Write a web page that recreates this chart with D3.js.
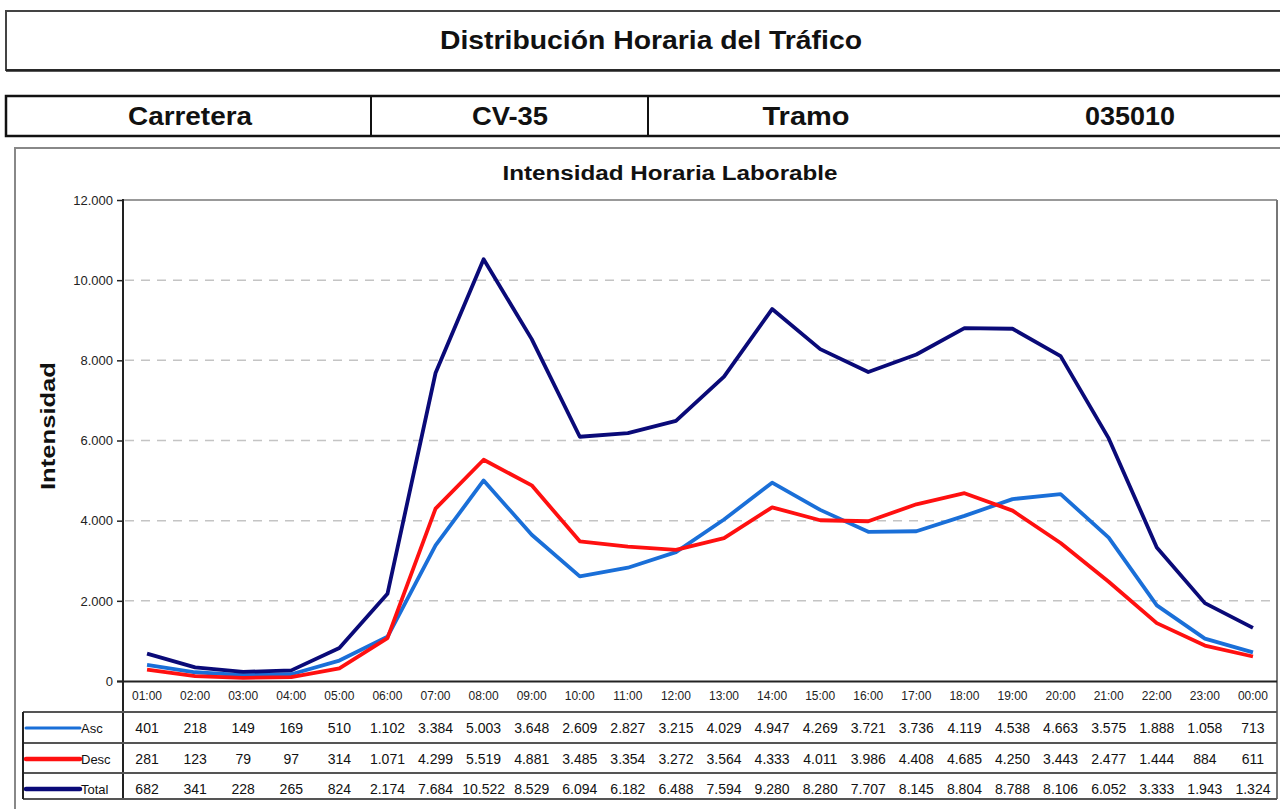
<!DOCTYPE html>
<html>
<head>
<meta charset="utf-8">
<script src="https://cdn.jsdelivr.net/npm/d3@7"></script>
<style>
  body { margin: 0; background: #fff; }
  svg { display: block; font-family: "Liberation Sans", Arial, sans-serif; }
</style>
</head>
<body>
<script>
// data
const hours = ["01:00","02:00","03:00","04:00","05:00","06:00","07:00","08:00","09:00","10:00","11:00","12:00",
               "13:00","14:00","15:00","16:00","17:00","18:00","19:00","20:00","21:00","22:00","23:00","00:00"];
const asc = [401,218,149,169,510,1102,3384,5003,3648,2609,2827,3215,4029,4947,4269,3721,3736,4119,4538,4663,3575,1888,1058,713];
const desc = [281,123,79,97,314,1071,4299,5519,4881,3485,3354,3272,3564,4333,4011,3986,4408,4685,4250,3443,2477,1444,884,611];
const total = [682,341,228,265,824,2174,7684,10522,8529,6094,6182,6488,7594,9280,8280,7707,8145,8804,8788,8106,6052,3333,1943,1324];
const seriesNames = ["Asc", "Desc", "Total"];
const yTicks = [0, 2000, 4000, 6000, 8000, 10000, 12000];
const headerCells = ["Carretera", "CV-35", "Tramo", "035010"];

const W = 1280, H = 809;
const colors = { Asc: "#1a6fd8", Desc: "#ff1010", Total: "#0a0a78" };
const seriesData = { Asc: asc, Desc: desc, Total: total };
const narrow = "'Liberation Sans Narrow', 'Liberation Sans', Arial, sans-serif";

const es = d3.formatLocale({ decimal: ",", thousands: ".", grouping: [3], currency: ["", "€"] });
const fmt = es.format(",d");

const svg = d3.select("body").append("svg").attr("width", W).attr("height", H);

// ---- header boxes ----
svg.append("rect").attr("x", 6).attr("y", 11).attr("width", 1290).attr("height", 59)
   .attr("fill", "none").attr("stroke", "#444").attr("stroke-width", 2);
svg.append("line").attr("x1", 6).attr("x2", 1280).attr("y1", 70.5).attr("y2", 70.5)
   .attr("stroke", "#222").attr("stroke-width", 2.5);
svg.append("text").attr("x", 651).attr("y", 49).attr("text-anchor", "middle")
   .attr("font-size", 25).attr("font-weight", "bold")
   .attr("textLength", 422).attr("lengthAdjust", "spacingAndGlyphs")
   .attr("fill", "#111").text("Distribución Horaria del Tráfico");

svg.append("rect").attr("x", 6).attr("y", 96).attr("width", 1290).attr("height", 40)
   .attr("fill", "none").attr("stroke", "#111").attr("stroke-width", 2.5);
const cellCenters = [190, 510, 806, 1130];
const cellWidths = [124, 76, 87, 90];
[371, 648].forEach(xx => {
  svg.append("line").attr("x1", xx).attr("x2", xx).attr("y1", 96).attr("y2", 136)
     .attr("stroke", "#111").attr("stroke-width", 2);
});
svg.selectAll(".hcell").data(headerCells).enter().append("text")
   .attr("class", "hcell")
   .attr("x", (d, i) => cellCenters[i]).attr("y", 125)
   .attr("text-anchor", "middle").attr("font-size", 25).attr("font-weight", "bold")
   .attr("textLength", (d, i) => cellWidths[i]).attr("lengthAdjust", "spacingAndGlyphs")
   .attr("fill", "#111").text(d => d);

// ---- chart frame ----
svg.append("rect").attr("x", 15).attr("y", 148).attr("width", 1300).attr("height", 700)
   .attr("fill", "none").attr("stroke", "#888").attr("stroke-width", 2);
svg.append("text").attr("x", 670).attr("y", 180).attr("text-anchor", "middle")
   .attr("font-size", 20).attr("font-weight", "bold")
   .attr("textLength", 335).attr("lengthAdjust", "spacingAndGlyphs")
   .attr("fill", "#111").text("Intensidad Horaria Laborable");

// ---- scales ----
const x = d3.scaleBand().domain(hours).range([123, 1277]);
const y = d3.scaleLinear().domain([0, 12000]).range([681, 200]);

// gridlines
svg.append("g").selectAll("line").data(yTicks.filter(v => v > 0 && v < 12000)).enter().append("line")
   .attr("x1", 125).attr("x2", 1277).attr("y1", d => y(d)).attr("y2", d => y(d))
   .attr("stroke", "#c4c4c4").attr("stroke-width", 1.5).attr("stroke-dasharray", "9,7");

// plot border top and right
svg.append("line").attr("x1", 123).attr("x2", 1277).attr("y1", y(12000)).attr("y2", y(12000))
   .attr("stroke", "#777").attr("stroke-width", 1.5);
svg.append("line").attr("x1", 1277).attr("x2", 1277).attr("y1", y(12000)).attr("y2", 799)
   .attr("stroke", "#777").attr("stroke-width", 2);

// y axis
const yAxis = svg.append("g").attr("transform", "translate(123,0)")
   .call(d3.axisLeft(y).tickValues(yTicks).tickSize(6).tickFormat(fmt));
yAxis.select(".domain").remove();
yAxis.selectAll(".tick line").attr("stroke", "#222").attr("stroke-width", 1.5);
yAxis.selectAll(".tick text").attr("font-size", 13).attr("fill", "#222")
   .attr("font-family", "'Liberation Sans', Arial, sans-serif").attr("x", -10);
svg.append("line").attr("x1", 123).attr("x2", 123).attr("y1", 199).attr("y2", 799)
   .attr("stroke", "#222").attr("stroke-width", 2);

svg.append("text").attr("transform", "translate(55,426) rotate(-90)")
   .attr("text-anchor", "middle").attr("font-size", 21).attr("font-weight", "bold")
   .attr("textLength", 128).attr("lengthAdjust", "spacingAndGlyphs")
   .attr("fill", "#111").text("Intensidad");

// x baseline + categories
svg.append("line").attr("x1", 117).attr("x2", 1277).attr("y1", 681.5).attr("y2", 681.5)
   .attr("stroke", "#222").attr("stroke-width", 2);
svg.append("g").selectAll("text").data(hours).enter().append("text")
   .attr("x", d => x(d) + x.bandwidth() / 2).attr("y", 700)
   .attr("text-anchor", "middle").attr("font-size", 12)
   .attr("font-family", narrow).attr("fill", "#222").text(d => d);

// ---- lines ----
const line = d3.line()
   .x((d, i) => x(hours[i]) + x.bandwidth() / 2)
   .y(d => y(d));

["Asc", "Desc", "Total"].forEach(name => {
  svg.append("path").datum(seriesData[name])
     .attr("fill", "none").attr("stroke", colors[name]).attr("stroke-width", 3.8)
     .attr("stroke-linejoin", "round").attr("d", line);
});

// ---- data table ----
const rowTops = [712, 743, 773];
const rowH = 30;
[712, 743, 773, 799].forEach(yy => {
  svg.append("line").attr("x1", 23).attr("x2", 1277).attr("y1", yy).attr("y2", yy)
     .attr("stroke", "#555").attr("stroke-width", 2);
});
svg.append("line").attr("x1", 23).attr("x2", 23).attr("y1", 712).attr("y2", 799)
   .attr("stroke", "#222").attr("stroke-width", 2);

seriesNames.forEach((name, r) => {
  const cy = rowTops[r] + rowH / 2 + 1;
  svg.append("line").attr("x1", 26).attr("x2", 80).attr("y1", cy).attr("y2", cy)
     .attr("stroke", colors[name]).attr("stroke-width", r === 0 ? 3 : 4.5)
     .attr("stroke-linecap", "round");
  svg.append("text").attr("x", 81).attr("y", cy + 4.5).attr("font-size", 13)
     .attr("font-family", narrow).attr("fill", "#111").text(name);
  svg.append("g").selectAll("text").data(seriesData[name]).enter().append("text")
     .attr("x", (d, i) => x(hours[i]) + x.bandwidth() / 2)
     .attr("y", cy + 4.5)
     .attr("text-anchor", "middle").attr("font-size", 14)
     .attr("font-family", narrow).attr("fill", "#111").text(d => fmt(d));
});
</script>
</body>
</html>
